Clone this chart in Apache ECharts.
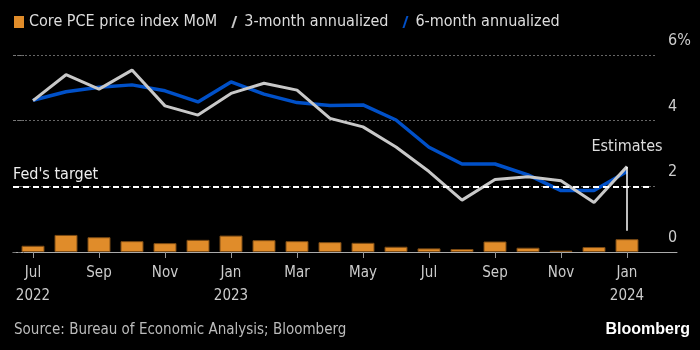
<!DOCTYPE html>
<html>
<head>
<meta charset="utf-8">
<script src="https://cdn.jsdelivr.net/npm/echarts@6/dist/echarts.min.js"></script>
<style>
  html, body { margin: 0; padding: 0; background: #000; }
  #chart { width: 700px; height: 350px; }
</style>
</head>
<body>
<div id="chart"></div>
<script>
// Jul 2022 .. Jan 2024, monthly
const months = [
  "Jul\n2022", "Aug", "Sep", "Oct", "Nov", "Dec",
  "Jan\n2023", "Feb", "Mar", "Apr", "May", "Jun",
  "Jul", "Aug", "Sep", "Oct", "Nov", "Dec", "Jan\n2024",
];
const pceMoM = [
  0.19, 0.52, 0.45, 0.33, 0.27, 0.37, 0.5, 0.36, 0.33, 0.3,
  0.28, 0.16, 0.11, 0.09, 0.32, 0.13, 0.04, 0.15, 0.39,
];
const threeMonth = [
  4.61, 5.4, 4.96, 5.54, 4.45, 4.17, 4.83, 5.14, 4.93, 4.07,
  3.81, 3.2, 2.45, 1.58, 2.21, 2.29, 2.17, 1.51, 2.6,
];
const sixMonth = [
  4.62, 4.88, 5.02, 5.09, 4.91, 4.57, 5.18, 4.81, 4.55, 4.46,
  4.48, 4.02, 3.19, 2.68, 2.68, 2.35, 1.87, 1.87, 2.45,
];
const yTicks = [0, 2, 4, 6];
const fedTarget = 2;
const estimateFrom = 0.65;

const FONT = "'Liberation Sans Narrow', 'DejaVu Sans Condensed', sans-serif";
const TOP = 55;
const BOTTOM = 98;

const chart = echarts.init(document.getElementById("chart"));

const option = {
  backgroundColor: "#000",
  animation: false,
  textStyle: { fontFamily: FONT },
  title: [
    {
      text: "Source: Bureau of Economic Analysis; Bloomberg",
      left: 9,
      top: 318,
      textStyle: { color: "#bbb", fontSize: 15, fontWeight: "normal", fontFamily: FONT },
    },
    {
      text: "Bloomberg",
      right: 5,
      top: 317,
      textStyle: { color: "#fff", fontSize: 16, fontWeight: "bold", fontFamily: "'Liberation Sans', sans-serif" },
    },
  ],
  legend: {
    top: 9,
    left: 9,
    itemGap: 14,
    itemWidth: 10,
    itemHeight: 12,
    textStyle: { color: "#ddd", fontSize: 16, fontFamily: FONT },
    data: [
      { name: "Core PCE price index MoM", icon: "rect", itemStyle: { color: "#e08c2a", borderWidth: 0 } },
      { name: "3-month annualized", icon: "path://M0,12 L4,0 L6,0 L2,12 Z" },
      { name: "6-month annualized", icon: "path://M0,12 L4,0 L6,0 L2,12 Z" },
    ],
  },
  grid: [
    { left: 13, right: 45, top: TOP, bottom: BOTTOM },
    { left: 13, right: 23, top: TOP, bottom: BOTTOM },
    { left: 16.5, right: 56.5, top: TOP, bottom: BOTTOM },
  ],
  xAxis: [
    { gridIndex: 0, type: "value", min: 0, max: 1, show: false },
    {
      gridIndex: 1, type: "value", min: 0, max: 1,
      axisLine: { show: true, onZero: false, lineStyle: { color: "#aaa", width: 1 } },
      axisTick: { show: false }, axisLabel: { show: false }, splitLine: { show: false },
    },
    {
      gridIndex: 2, type: "category", data: months, boundaryGap: true,
      axisLine: { show: false },
      axisTick: { show: true, alignWithLabel: true, interval: 1, length: 6, lineStyle: { color: "#999" } },
      axisLabel: { interval: 1, color: "#ccc", fontSize: 15, lineHeight: 23, margin: 10, fontFamily: FONT },
    },
  ],
  yAxis: [
    {
      gridIndex: 0, type: "value", position: "right", offset: 10,
      min: 0, max: 6, interval: 2,
      axisLine: { show: false },
      axisTick: { show: true, length: 11, lineStyle: { color: "#777", type: [3, 2] } },
      axisLabel: {
        color: "#ccc", fontSize: 16, margin: 3, verticalAlign: "bottom",
        padding: [0, 0, 6, 0], fontFamily: FONT,
        formatter: (v) => (v === yTicks[yTicks.length - 1] ? v + "%" : String(v)),
      },
      splitLine: { show: true, lineStyle: { color: "#666", type: [2, 2], width: 1 } },
    },
    { gridIndex: 1, type: "value", min: 0, max: 6, show: false },
    { gridIndex: 2, type: "value", min: 0, max: 6, show: false },
  ],
  series: [
    {
      name: "fed",
      type: "line",
      xAxisIndex: 0,
      yAxisIndex: 0,
      data: [],
      silent: true,
      markLine: {
        symbol: "none",
        silent: true,
        lineStyle: { color: "#fff", type: [6, 4], width: 2 },
        label: {
          show: true, position: "insideStartTop", formatter: "Fed's target",
          color: "#eee", fontSize: 16, distance: [0, 3], fontFamily: FONT,
        },
        data: [[{ coord: [0, fedTarget] }, { coord: [0.995, fedTarget] }]],
      },
    },
    {
      name: "Core PCE price index MoM",
      type: "bar",
      xAxisIndex: 2,
      yAxisIndex: 2,
      barWidth: 23,
      itemStyle: { color: "#e08c2a", borderColor: "#7a4a14", borderWidth: 1 },
      data: pceMoM,
    },
    {
      name: "6-month annualized",
      type: "line",
      xAxisIndex: 2,
      yAxisIndex: 2,
      symbol: "none",
      color: "#0050c8",
      lineStyle: { color: "#0050c8", width: 3.5 },
      data: sixMonth,
    },
    {
      name: "3-month annualized",
      type: "line",
      xAxisIndex: 2,
      yAxisIndex: 2,
      symbol: "none",
      color: "#c8c8c8",
      lineStyle: { color: "#c8c8c8", width: 3 },
      data: threeMonth,
      markLine: {
        symbol: "none",
        silent: true,
        lineStyle: { color: "#fff", type: "solid", width: 1.5 },
        label: {
          show: true, position: "start", formatter: "Estimates",
          color: "#ddd", fontSize: 16, distance: 12, fontFamily: FONT,
        },
        data: [[
          { coord: [months.length - 1, threeMonth[threeMonth.length - 1]] },
          { coord: [months.length - 1, estimateFrom] },
        ]],
      },
    },
  ],
};

chart.setOption(option);
</script>
</body>
</html>
